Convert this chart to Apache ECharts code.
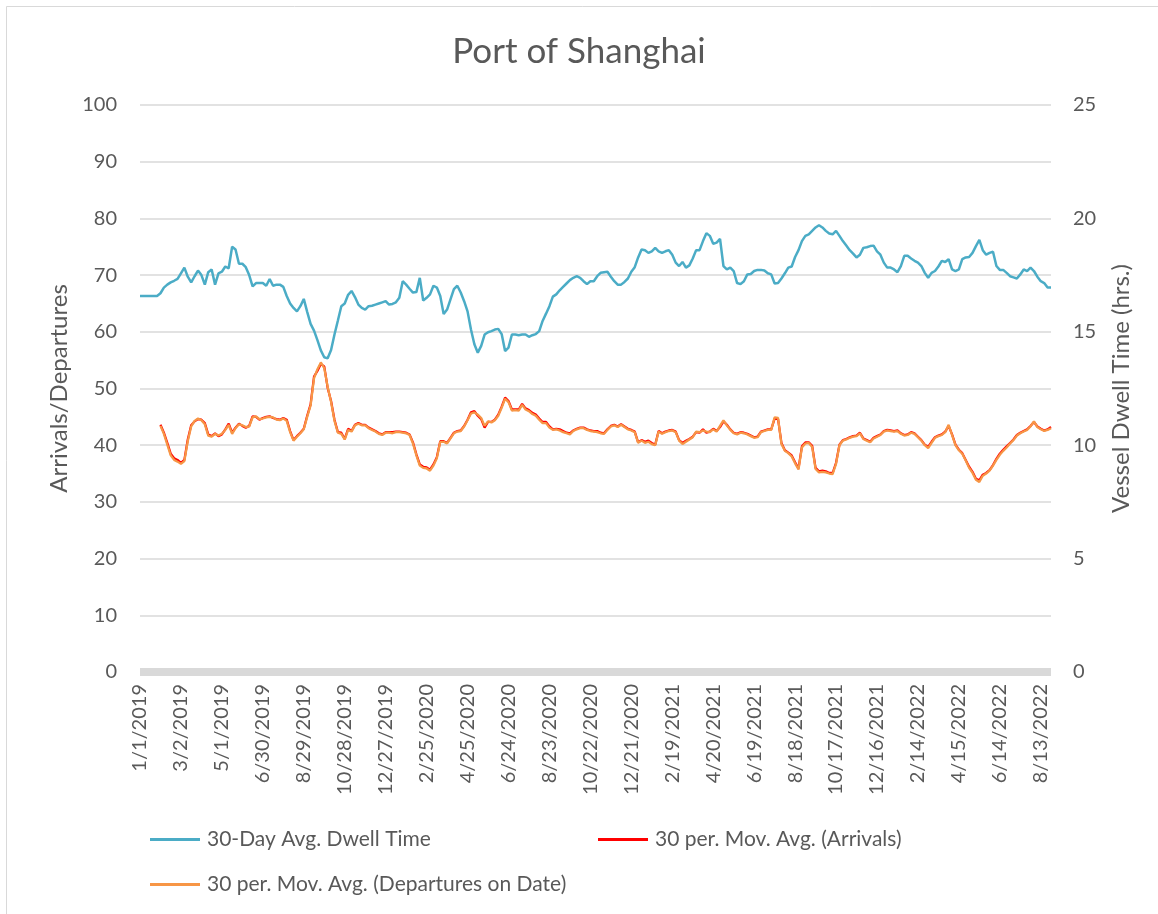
<!DOCTYPE html>
<html>
<head>
<meta charset="utf-8">
<title>Port of Shanghai</title>
<script src="https://cdn.jsdelivr.net/npm/echarts@6/dist/echarts.min.js"></script>
<style>
  html, body { margin: 0; padding: 0; background: #fff; }
  #main { width: 1158px; height: 914px; }
</style>
</head>
<body>
<div id="main"></div>
<script>
// one value every 5 days, starting 1/1/2019
var STEP = 5;

var tickLabels = ['1/1/2019', '3/2/2019', '5/1/2019', '6/30/2019', '8/29/2019', '10/28/2019',
    '12/27/2019', '2/25/2020', '4/25/2020', '6/24/2020', '8/23/2020', '10/22/2020',
    '12/21/2020', '2/19/2021', '4/20/2021', '6/19/2021', '8/18/2021', '10/17/2021',
    '12/16/2021', '2/14/2022', '4/15/2022', '6/14/2022', '8/13/2022'];

// 30-day avg dwell time (hrs.)
var dwellTime = [
    16.58, 16.58, 16.58, 16.58, 16.58, 16.58, 16.70, 16.95, 17.08, 17.18,
    17.25, 17.33, 17.58, 17.83, 17.43, 17.18, 17.45, 17.70, 17.50, 17.08,
    17.63, 17.75, 17.08, 17.58, 17.65, 17.88, 17.80, 18.75, 18.63, 18.00,
    18.00, 17.85, 17.50, 17.00, 17.15, 17.15, 17.15, 17.03, 17.33, 17.03,
    17.08, 17.08, 16.98, 16.58, 16.25, 16.05, 15.90, 16.13, 16.45, 15.88,
    15.35, 15.05, 14.63, 14.18, 13.88, 13.83, 14.20, 14.88, 15.50, 16.13,
    16.25, 16.63, 16.80, 16.53, 16.20, 16.05, 15.98, 16.13, 16.15, 16.20,
    16.25, 16.30, 16.35, 16.20, 16.23, 16.30, 16.50, 17.23, 17.08, 16.90,
    16.73, 16.75, 17.38, 16.38, 16.50, 16.65, 17.03, 16.95, 16.58, 15.78,
    15.98, 16.43, 16.88, 17.03, 16.73, 16.35, 15.90, 15.10, 14.45, 14.08,
    14.38, 14.88, 14.98, 15.03, 15.10, 15.13, 14.90, 14.15, 14.30, 14.88,
    14.88, 14.85, 14.88, 14.88, 14.78, 14.85, 14.90, 15.03, 15.48, 15.80,
    16.13, 16.55, 16.65, 16.83, 16.98, 17.13, 17.28, 17.38, 17.45, 17.38,
    17.23, 17.10, 17.23, 17.23, 17.45, 17.60, 17.63, 17.65, 17.43, 17.23,
    17.08, 17.08, 17.20, 17.35, 17.65, 17.85, 18.28, 18.63, 18.60, 18.48,
    18.55, 18.70, 18.55, 18.48, 18.55, 18.60, 18.40, 18.05, 17.90, 18.08,
    17.83, 17.93, 18.23, 18.60, 18.60, 19.00, 19.35, 19.23, 18.88, 18.93,
    19.10, 17.90, 17.75, 17.83, 17.68, 17.15, 17.10, 17.23, 17.53, 17.55,
    17.68, 17.73, 17.73, 17.70, 17.58, 17.53, 17.13, 17.15, 17.35, 17.58,
    17.83, 17.88, 18.30, 18.60, 19.00, 19.23, 19.30, 19.45, 19.60, 19.70,
    19.60, 19.45, 19.33, 19.30, 19.45, 19.23, 19.00, 18.80, 18.60, 18.45,
    18.28, 18.40, 18.70, 18.73, 18.78, 18.80, 18.55, 18.40, 18.05, 17.83,
    17.83, 17.75, 17.63, 17.90, 18.35, 18.35, 18.23, 18.13, 18.05, 17.90,
    17.60, 17.38, 17.60, 17.68, 17.88, 18.13, 18.08, 18.20, 17.75, 17.68,
    17.75, 18.20, 18.28, 18.30, 18.48, 18.78, 19.05, 18.60, 18.40, 18.48,
    18.53, 17.90, 17.73, 17.73, 17.60, 17.45, 17.40, 17.35, 17.53, 17.75,
    17.68, 17.83, 17.68, 17.43, 17.23, 17.15, 16.95, 16.95
];

// 30 per. moving average of arrivals
var arrivals = [
    null, null, null, null, null, null, 43.6, 42.2, 40.4, 38.5,
    37.7, 37.4, 36.9, 37.4, 41.0, 43.5, 44.2, 44.6, 44.5, 43.9,
    41.9, 41.6, 42.1, 41.6, 41.9, 42.8, 43.8, 42.2, 43.1, 43.8,
    43.4, 43.1, 43.4, 45.1, 45.0, 44.5, 44.8, 45.0, 45.1, 44.8,
    44.6, 44.5, 44.8, 44.5, 42.5, 40.9, 41.6, 42.2, 42.9, 45.2,
    47.2, 52.1, 53.1, 54.3, 53.9, 50.1, 47.8, 44.5, 42.3, 42.2,
    41.1, 42.9, 42.5, 43.6, 43.9, 43.6, 43.6, 43.1, 42.8, 42.5,
    42.1, 41.9, 42.3, 42.3, 42.3, 42.4, 42.4, 42.3, 42.2, 41.9,
    40.5, 38.4, 36.6, 36.2, 36.1, 35.7, 36.6, 37.9, 40.7, 40.7,
    40.4, 41.3, 42.2, 42.5, 42.6, 43.4, 44.5, 45.8, 46.0, 45.2,
    44.6, 43.1, 44.1, 44.1, 44.5, 45.4, 46.8, 48.4, 47.8, 46.3,
    46.3, 46.3, 47.3, 46.5, 46.2, 45.7, 45.4, 44.7, 44.1, 44.1,
    43.3, 42.8, 42.9, 42.8, 42.5, 42.2, 42.1, 42.6, 42.9, 43.1,
    43.1, 42.8, 42.6, 42.5, 42.5, 42.2, 42.1, 42.8, 43.4, 43.6,
    43.3, 43.7, 43.3, 42.9, 42.7, 42.4, 40.5, 40.9, 40.6, 40.8,
    40.4, 40.1, 42.5, 42.1, 42.4, 42.6, 42.7, 42.4, 40.9, 40.4,
    40.8, 41.1, 41.5, 42.3, 42.2, 42.8, 42.2, 42.4, 42.9, 42.5,
    43.2, 44.2, 43.6, 42.8, 42.2, 42.0, 42.3, 42.2, 42.0, 41.7,
    41.4, 41.5, 42.4, 42.6, 42.8, 42.8, 44.7, 44.6, 40.4, 39.1,
    38.7, 38.2, 37.0, 35.9, 39.8, 40.5, 40.5, 39.9, 36.0, 35.4,
    35.5, 35.4, 35.1, 35.1, 36.9, 40.1, 40.9, 41.1, 41.4, 41.6,
    41.7, 42.2, 41.2, 40.9, 40.6, 41.3, 41.6, 41.9, 42.5, 42.7,
    42.6, 42.5, 42.6, 42.1, 41.8, 41.9, 42.3, 42.1, 41.5, 40.9,
    40.1, 39.7, 40.6, 41.4, 41.7, 41.9, 42.4, 43.4, 41.9, 40.1,
    39.2, 38.6, 37.4, 36.2, 35.3, 34.1, 33.8, 34.8, 35.1, 35.6,
    36.5, 37.6, 38.5, 39.2, 39.8, 40.4, 41.0, 41.8, 42.2, 42.5,
    42.8, 43.4, 44.1, 43.3, 42.9, 42.6, 42.8, 43.2
];

// 30 per. moving average of departures on date
var departures = [
    null, null, null, null, null, null, 43.4, 42.0, 40.1, 38.2,
    37.4, 37.1, 36.7, 37.2, 40.7, 43.3, 44.3, 44.7, 44.4, 43.7,
    41.7, 41.5, 42.0, 41.7, 42.0, 42.7, 43.6, 42.0, 43.0, 43.7,
    43.5, 43.2, 43.3, 44.9, 45.1, 44.6, 44.7, 44.9, 45.0, 44.9,
    44.5, 44.4, 44.7, 44.3, 42.3, 40.8, 41.5, 42.1, 42.8, 45.0,
    47.0, 51.8, 53.4, 54.6, 53.6, 50.3, 47.6, 44.3, 42.2, 42.0,
    41.0, 42.7, 42.4, 43.5, 43.8, 43.5, 43.5, 43.0, 42.7, 42.4,
    42.0, 41.8, 42.2, 42.2, 42.1, 42.3, 42.3, 42.2, 42.1, 41.8,
    40.3, 38.2, 36.4, 36.0, 35.9, 35.5, 36.4, 37.7, 40.6, 40.6,
    40.3, 41.2, 42.1, 42.4, 42.5, 43.3, 44.4, 45.6, 45.8, 45.4,
    44.8, 43.4, 44.2, 44.0, 44.4, 45.2, 46.6, 48.2, 47.6, 46.1,
    46.2, 46.1, 47.1, 46.3, 46.0, 45.5, 45.2, 44.5, 43.9, 43.9,
    43.1, 42.7, 42.8, 42.6, 42.3, 42.1, 41.9, 42.5, 42.8, 43.0,
    43.0, 42.7, 42.5, 42.4, 42.3, 42.1, 42.0, 42.7, 43.3, 43.5,
    43.2, 43.6, 43.2, 42.8, 42.6, 42.3, 40.4, 40.8, 40.4, 40.6,
    40.2, 40.0, 42.4, 42.0, 42.3, 42.5, 42.6, 42.3, 40.8, 40.2,
    40.6, 41.0, 41.4, 42.4, 42.3, 42.6, 42.4, 42.3, 42.8, 42.4,
    43.4, 44.4, 43.5, 42.7, 42.1, 41.9, 42.2, 42.1, 41.9, 41.6,
    41.3, 41.4, 42.3, 42.5, 42.7, 42.7, 44.9, 44.8, 40.2, 39.0,
    38.6, 38.0, 36.8, 35.7, 39.6, 40.3, 40.4, 39.7, 35.8, 35.2,
    35.3, 35.2, 35.0, 34.9, 36.7, 40.0, 40.8, 41.0, 41.3, 41.5,
    41.6, 42.1, 41.1, 40.8, 40.5, 41.2, 41.5, 41.8, 42.4, 42.6,
    42.5, 42.4, 42.5, 42.0, 41.7, 41.8, 42.2, 42.0, 41.4, 40.8,
    40.0, 39.5, 40.4, 41.3, 41.6, 41.8, 42.3, 43.6, 41.8, 40.0,
    39.1, 38.5, 37.3, 36.0, 35.1, 33.9, 33.5, 34.6, 35.0, 35.5,
    36.4, 37.4, 38.3, 39.0, 39.6, 40.3, 40.9, 41.7, 42.1, 42.4,
    42.7, 43.3, 44.2, 43.2, 42.8, 42.5, 42.7, 43.0
];

var seriesNames = ['30-Day Avg. Dwell Time', '30 per. Mov. Avg. (Arrivals)', '30 per. Mov. Avg. (Departures on Date)'];

function toPairs(arr) {
    return arr.map(function (v, i) { return [i * STEP, v]; });
}

var FONT = 'Lato';
var TXT = '#595959';

function legendAt(name, left, top) {
    return {
        data: [name],
        left: left, top: top,
        padding: 0,
        icon: 'rect', itemWidth: 50, itemHeight: 3, itemGap: 0,
        textStyle: { fontFamily: FONT, fontSize: 21, color: TXT, padding: [0, 0, 0, 2] }
    };
}

var myChart = echarts.init(document.getElementById('main'));
option = {
    animation: false,
    backgroundColor: '#fff',
    title: {
        text: 'Port of Shanghai',
        left: 'center',
        top: 29,
        textStyle: { fontFamily: FONT, fontSize: 35, fontWeight: 'normal', color: TXT }
    },
    graphic: [{
        type: 'rect',
        shape: { x: 6.5, y: 6.5, width: 1170, height: 930 },
        style: { fill: 'none', stroke: '#d9d9d9', lineWidth: 1 },
        silent: true
    }],
    legend: [
        legendAt(seriesNames[0], 150, 829),
        legendAt(seriesNames[1], 598, 829),
        legendAt(seriesNames[2], 150, 874)
    ],
    grid: { left: 140, right: 107, top: 105, bottom: 242 },
    xAxis: {
        type: 'value',
        min: 0,
        max: 1335,
        interval: 60,
        offset: 3,
        splitLine: { show: false },
        axisTick: { show: false },
        axisLine: { lineStyle: { color: '#d9d9d9', width: 8, cap: 'butt' } },
        axisLabel: {
            rotate: 90,
            margin: 9,
            fontFamily: FONT,
            fontSize: 20,
            color: TXT,
            showMaxLabel: false,
            formatter: function (v) {
                var i = v / 60;
                return (i % 1 === 0 && tickLabels[i]) ? tickLabels[i] : '';
            }
        }
    },
    yAxis: [{
        type: 'value',
        min: 0, max: 100, interval: 10,
        name: 'Arrivals/Departures',
        nameLocation: 'middle',
        nameGap: 68,
        nameTextStyle: { fontFamily: FONT, fontSize: 24, color: TXT },
        axisLine: { show: false },
        axisTick: { show: false },
        axisLabel: { fontFamily: FONT, fontSize: 20, color: TXT, margin: 23 },
        splitLine: { lineStyle: { color: '#d9d9d9', width: 1.5 } }
    }, {
        type: 'value',
        min: 0, max: 25, interval: 5,
        name: 'Vessel Dwell Time (hrs.)',
        nameLocation: 'middle',
        nameGap: 58,
        nameTextStyle: { fontFamily: FONT, fontSize: 24, color: TXT },
        axisLine: { show: false },
        axisTick: { show: false },
        axisLabel: { fontFamily: FONT, fontSize: 20, color: TXT, margin: 22 },
        splitLine: { show: false }
    }],
    series: [{
        name: seriesNames[0],
        type: 'line',
        yAxisIndex: 1,
        showSymbol: false,
        color: '#4bacc6',
        lineStyle: { width: 2.5 },
        data: toPairs(dwellTime)
    }, {
        name: seriesNames[1],
        type: 'line',
        showSymbol: false,
        color: '#ff0000',
        lineStyle: { width: 2.25 },
        data: toPairs(arrivals)
    }, {
        name: seriesNames[2],
        type: 'line',
        showSymbol: false,
        color: '#f79646',
        lineStyle: { width: 2.25 },
        data: toPairs(departures)
    }]
};
myChart.setOption(option);
</script>
</body>
</html>
